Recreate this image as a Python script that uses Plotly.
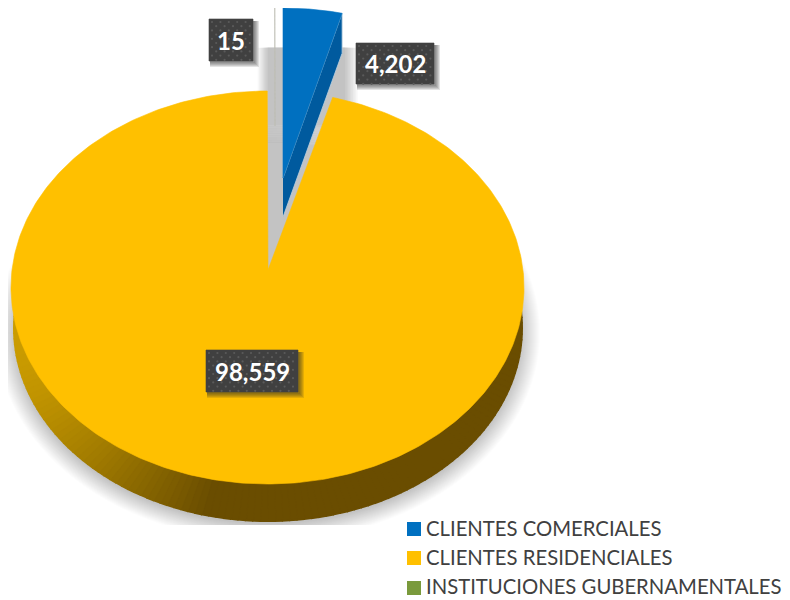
import numpy as np
import plotly.graph_objects as go

categories = ["CLIENTES COMERCIALES", "CLIENTES RESIDENCIALES", "INSTITUCIONES GUBERNAMENTALES"]
values = [4202, 98559, 15]
colors = ["#0070C0", "#FFC000", "#7A9A3C"]

total = sum(values)
sweeps = [v / total * 360 for v in values]
a0 = 0.0
a1 = a0 + sweeps[0]
a2 = a1 + sweeps[1]
a3 = a2 + sweeps[2]

RX, RY = 256.5, 196.5
CX, CY = 267.5, 287.5
APEX = (268, 270)
BLUE_C = (283, 204.5)
BLUE_APEX = (283, 178)
DEPTH_C = (268, 328)
DEPTH_R = (254, 193)
PAGE = 8  # the page's own body margin


def arc(c, r, t0, t1, n=160):
    t = np.radians(np.linspace(t0, t1, n))
    return c[0] + r[0] * np.sin(t), c[1] - r[1] * np.cos(t)


def poly(xs, ys, fill, line=None, w=1):
    return go.Scatter(x=list(xs), y=list(ys), mode="lines", fill="toself", fillcolor=fill,
                      line=dict(color=line or fill, width=w if line else 0.6),
                      showlegend=False, hoverinfo="skip")


def lerp_color(stops, x):
    xs = [s[0] for s in stops]
    rgb = [np.interp(x, xs, [s[1][i] for s in stops]) for i in range(3)]
    return "rgb(%d,%d,%d)" % tuple(rgb)


fig = go.Figure()
shapes = []

# soft shadow under the pie
for k in range(20, 0, -1):
    shapes.append(dict(type="circle", xref="x", yref="y", layer="below",
                       x0=268 - 252 - k * 1.0, x1=268 + 252 + k * 1.0,
                       y0=333 - 190 - k * 0.9, y1=333 + 190 + k * 0.9,
                       fillcolor="rgba(0,0,0,0.012)", line=dict(width=0)))
shapes.append(dict(type="rect", xref="x", yref="y", layer="below", x0=0, x1=790, y0=525, y1=600,
                   fillcolor="white", line=dict(width=0)))
# shadow behind the exploded wedge
for k in range(8, -1, -1):
    shapes.append(dict(type="rect", xref="x", yref="y", layer="below",
                       x0=268 - k * 1.3, x1=345 + k * 1.6, y0=47 + k * 0.1, y1=125 + k * 2.25,
                       fillcolor="rgba(0,0,0,0.027)", line=dict(width=0)))

# side wall
stops = [(10, (205, 158, 0)), (60, (176, 135, 0)), (130, (140, 106, 0)), (205, (107, 78, 0)), (530, (106, 77, 0))]
edges = np.linspace(80, 280, 121)
for s, e in zip(edges[:-1], edges[1:]):
    ox, oy = arc(DEPTH_C, DEPTH_R, s, e, 4)
    col = lerp_color(stops, ox.mean())
    fig.add_trace(poly(list(ox) + [CX], list(oy) + [CY], col, col, 2))

# top faces
yx, yy = arc((CX, CY), (RX, RY), a1, a2, 400)
fig.add_trace(poly([APEX[0]] + list(yx) + [APEX[0]], [APEX[1]] + list(yy) + [APEX[1]], colors[1]))

# blue radial wall, then blue top
bx, by = arc(BLUE_C, (RX, RY), a0, sweeps[0] * 0.905, 40)
fig.add_trace(poly([BLUE_APEX[0], bx[-1], bx[-1], BLUE_APEX[0]],
                   [BLUE_APEX[1], by[-1], by[-1] + 40, BLUE_APEX[1] + 39], "#005A9E", "#BCD0E0", 0.8))
fig.add_trace(poly([BLUE_APEX[0]] + list(bx) + [BLUE_APEX[0]], [BLUE_APEX[1]] + list(by) + [BLUE_APEX[1]], colors[0]))

# the tiny third slice: a hairline
gx, gy = arc((275, 204.5), (RX, RY), a2 - 360, a3 - 360, 4)
fig.add_trace(poly([275] + list(gx) + [275], [126] + list(gy) + [126], "rgba(190,190,180,0.7)", "rgba(190,190,180,0.7)", 1))

# legend entries: first marker sets a blank legend glyph, second sits beside the text
key_y = [529, 558, 588]
for name, col, ky in zip(categories, colors, key_y):
    fig.add_trace(go.Scatter(x=[414, 414], y=[ky, ky], mode="markers", name=name, legendgroup=name,
                             hoverinfo="name",
                             marker=dict(symbol="square", size=14, color=["rgba(0,0,0,0)", col])))

# data labels: shadow, dark box, dotted texture, text
label_boxes = [(356, 434, 43, 84), (206, 298, 350, 392), (209, 253, 19, 61)]
annotations = []
for v, (x0, x1, y0, y1) in zip(values, label_boxes):
    for k in range(5, 0, -1):
        sx = [x0 + 1, x1 + k + 1, x1 + k + 1, x0 + 1, x0 + 1]
        sy = [y0 + 2, y0 + 2, y1 + k + 1, y1 + k + 1, y0 + 2]
        fig.add_trace(poly(sx, sy, "rgba(40,40,40,0.13)", "rgba(0,0,0,0)", 0))
    fig.add_trace(poly([x0, x1, x1, x0, x0], [y0, y0, y1, y1, y0], "#404040"))
    dx, dy = [], []
    for r, py in enumerate(np.arange(y0 + 3, y1, 4.2)):
        for px in np.arange(x0 + 3 + (r % 2) * 4.2, x1 - 1, 8.4):
            dx.append(px)
            dy.append(py)
    fig.add_trace(go.Scatter(x=dx, y=dy, mode="markers", showlegend=False, hoverinfo="skip",
                             marker=dict(size=2.2, color="#5A5A5A", line=dict(width=0))))
    annotations.append(dict(x=(x0 + x1) / 2, y=(y0 + y1) / 2, xref="x", yref="y", text=f"<b>{v:,}</b>",
                            showarrow=False, font=dict(family="Lato", size=24, color="white")))

fig.update_layout(
    width=790 - PAGE, height=600 - PAGE,
    margin=dict(l=0, r=0, t=0, b=0, autoexpand=False),
    paper_bgcolor="rgba(0,0,0,0)", plot_bgcolor="rgba(0,0,0,0)",
    xaxis=dict(range=[PAGE, 790], visible=False, fixedrange=True),
    yaxis=dict(range=[600, PAGE], visible=False, fixedrange=True),
    shapes=shapes, annotations=annotations, showlegend=True,
    legend=dict(x=(386 - PAGE) / (790 - PAGE), y=1 - (508 - PAGE) / (600 - PAGE), xanchor="left", yanchor="top",
                tracegroupgap=0, bgcolor="rgba(0,0,0,0)",
                font=dict(family="Lato", size=20.3, color="#404040"),
                itemsizing="trace", itemwidth=30),
)
fig.write_html("out.html")
